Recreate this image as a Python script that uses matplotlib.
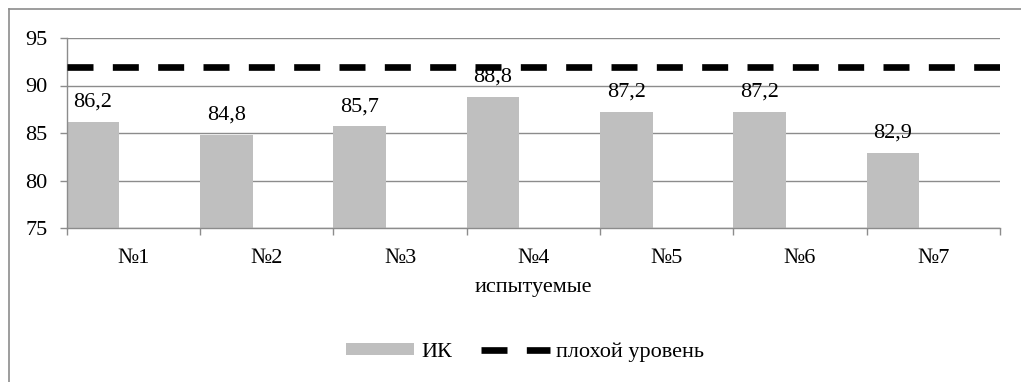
import matplotlib
matplotlib.use("Agg")
import matplotlib.pyplot as plt
from matplotlib.lines import Line2D
import numpy as np

categories = ["№1", "№2", "№3", "№4", "№5", "№6", "№7"]
ik_values = [86.2, 84.8, 85.7, 88.8, 87.2, 87.2, 82.9]
bad_level = 92
y_ticks = [75, 80, 85, 90, 95]
series_names = ["ИК", "плохой уровень"]
x_label = "испытуемые"

plt.rcParams['font.family'] = ['Liberation Serif', 'DejaVu Serif']
plt.rcParams['font.size'] = 16

W, H = 1021, 382
fig = plt.figure(figsize=(W / 100, H / 100), dpi=100)
ax = fig.add_axes([66.7 / W, 1 - 228 / H, (1000 - 66.7) / W, (228 - 38) / H])

grid_c = "#8c8c8c"
bar_c = "#bfbfbf"

x = np.arange(len(categories))
bars = ax.bar(x - 0.5, ik_values, width=0.395, align='edge', color=bar_c,
              zorder=2, label=series_names[0])
for xi, v in zip(x, ik_values):
    ax.annotate(f"{v:.1f}".replace('.', ','), xy=(xi - 0.5 + 0.395 / 2, v),
                xytext=(0, 11), textcoords='offset points', ha='center',
                va='baseline', fontsize=16, zorder=3)

line = ax.axhline(bad_level, color='black', lw=4.8, dashes=(3.9, 2.9),
                  zorder=5, label=series_names[1])

ax.set_xlim(-0.5, len(categories) - 0.5)
ax.set_ylim(75, 95)
ax.set_yticks(y_ticks)
ax.set_yticklabels([str(t) for t in y_ticks])
ax.set_xticks(x)
ax.set_xticklabels(categories)
ax.set_xticks(np.arange(len(categories) + 1) - 0.5, minor=True)
ax.tick_params(axis='x', which='major', length=0, pad=15)
ax.tick_params(axis='x', which='minor', length=5, color=grid_c, width=1)
ax.tick_params(axis='y', length=5, color=grid_c, width=1, pad=9)
ax.yaxis.grid(True, color=grid_c, lw=1, zorder=0)
ax.set_axisbelow(True)
for s in ['top', 'right']:
    ax.spines[s].set_visible(False)
for s in ['left', 'bottom']:
    ax.spines[s].set_color(grid_c)
    ax.spines[s].set_linewidth(1)
ax.set_xlabel(x_label, fontsize=16, labelpad=7)

fig.legend(handles=[bars, line], labels=series_names, loc='center',
           bbox_to_anchor=(525 / W, 1 - 352 / H), ncol=2, frameon=False,
           handlelength=3.1, handleheight=0.5, handletextpad=0.3,
           columnspacing=1.3, fontsize=16)

# outer chart frame
fig.add_artist(Line2D([9 / W, 1], [1 - 9 / H, 1 - 9 / H], color=grid_c, lw=1.2,
                      transform=fig.transFigure))
fig.add_artist(Line2D([9 / W, 9 / W], [1 - 9 / H, 0], color=grid_c, lw=1.2,
                      transform=fig.transFigure))

fig.savefig("out.png", dpi=100)
